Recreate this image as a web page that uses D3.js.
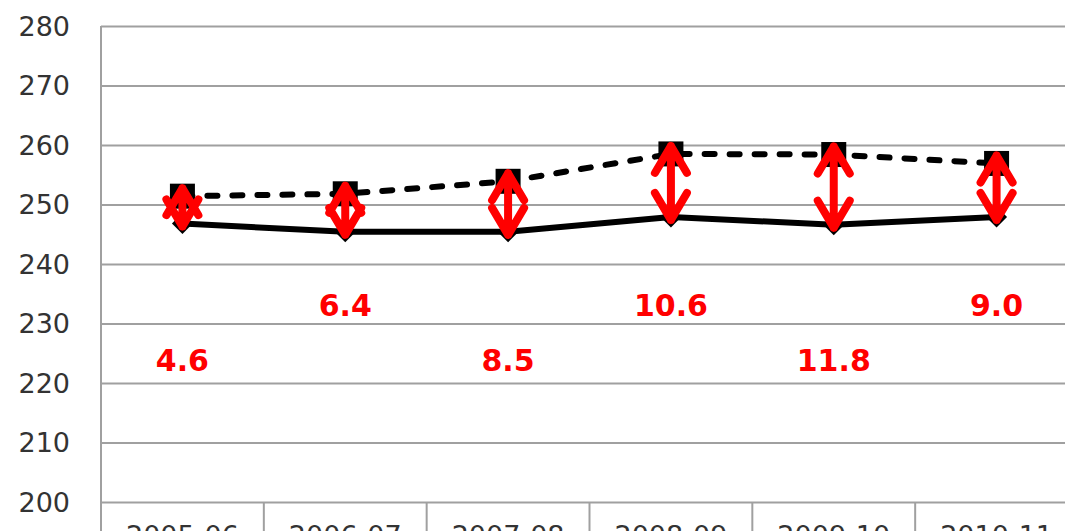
<!DOCTYPE html>
<html>
<head>
<meta charset="utf-8">
<script src="https://cdn.jsdelivr.net/npm/d3@7"></script>
<style>
  html, body { margin: 0; padding: 0; background: #fff; overflow: hidden; }
  svg { display: block; }
  .y-axis text, .x-axis text { font-family: "DejaVu Sans", sans-serif; font-size: 27px; fill: #333; }
  .gap-label { font-family: "DejaVu Sans", sans-serif; font-weight: bold; font-size: 30px; fill: #ff0000; }
</style>
</head>
<body>
<div class="curr-graff"></div>
<script>
// data
const categories = ["2005-06", "2006-07", "2007-08", "2008-09", "2009-10", "2010-11"];
const lowSeries  = [246.8, 245.4, 245.4, 247.9, 246.6, 247.9];   // solid line, diamonds
const highSeries = [251.4, 251.8, 253.9, 258.5, 258.4, 256.9];   // dashed line, squares
const gapLabels  = ["4.6", "6.4", "8.5", "10.6", "11.8", "9.0"];
const yTicks     = [200, 210, 220, 230, 240, 250, 260, 270, 280];

const width = 1065;
const height = 531;

const svg = d3.select(".curr-graff")
    .append("svg")
    .attr("width", width)
    .attr("height", height);

const xScale = d3.scaleBand()
    .domain(categories)
    .range([101, 1078]);

const yScale = d3.scaleLinear()
    .domain([200, 280])
    .range([502, 26]);

const cx = d => xScale(d) + xScale.bandwidth() / 2;

// y axis + gridlines
const yAxis = d3.axisLeft(yScale)
    .tickValues(yTicks)
    .tickSize(-(1078 - 101))
    .tickPadding(31)
    .tickFormat(d3.format(".0f"));

const gy = svg.append("g")
    .attr("class", "y-axis")
    .attr("transform", "translate(101,0)")
    .call(yAxis);
gy.select(".domain").remove();
gy.selectAll(".tick line").attr("stroke", "#a0a0a0").attr("stroke-width", 2);
gy.selectAll(".tick text").attr("dy", "0.35em");

// left axis line, runs into the category box
svg.append("line")
    .attr("x1", 101).attr("x2", 101)
    .attr("y1", yScale(280)).attr("y2", height)
    .attr("stroke", "#a0a0a0").attr("stroke-width", 2);

// x axis labels (cut by the bottom edge like the original)
const xAxis = d3.axisBottom(xScale).tickSize(0).tickPadding(24);
const gx = svg.append("g")
    .attr("class", "x-axis")
    .attr("transform", "translate(0," + yScale(200) + ")")
    .call(xAxis);
gx.select(".domain").remove();

// separators between categories
svg.selectAll("line.sep")
    .data(categories.slice(1))
    .enter()
    .append("line")
    .attr("class", "sep")
    .attr("x1", d => xScale(d)).attr("x2", d => xScale(d))
    .attr("y1", yScale(200)).attr("y2", height)
    .attr("stroke", "#a0a0a0").attr("stroke-width", 2);

// lines
const line = d3.line()
    .x((d, i) => cx(categories[i]))
    .y(d => yScale(d));

svg.append("path")
    .datum(lowSeries)
    .attr("fill", "none")
    .attr("stroke", "#000")
    .attr("stroke-width", 6)
    .attr("stroke-linejoin", "round")
    .attr("d", line);

svg.append("path")
    .datum(highSeries)
    .attr("fill", "none")
    .attr("stroke", "#000")
    .attr("stroke-width", 6)
    .attr("stroke-linecap", "round")
    .attr("stroke-dasharray", "10,15")
    .attr("d", line);

// markers
const diamond = d3.symbol().type(d3.symbolDiamond2).size(280);
svg.selectAll("path.dia")
    .data(lowSeries)
    .enter()
    .append("path")
    .attr("class", "dia")
    .attr("d", diamond)
    .attr("transform", (d, i) => "translate(" + cx(categories[i]) + "," + yScale(d) + ")")
    .attr("fill", "#000");

svg.selectAll("rect.sq")
    .data(highSeries)
    .enter()
    .append("rect")
    .attr("class", "sq")
    .attr("x", (d, i) => cx(categories[i]) - 12.5)
    .attr("y", d => yScale(d) - 12.5)
    .attr("width", 25).attr("height", 25)
    .attr("fill", "#000");

// red double arrows between the two series
const headW = 16, headH = 27;
const arrows = svg.selectAll("g.arrow")
    .data(categories)
    .enter()
    .append("g")
    .attr("class", "arrow")
    .attr("fill", "none")
    .attr("stroke", "#ff0000")
    .attr("stroke-width", 8)
    .attr("stroke-linecap", "round")
    .attr("stroke-linejoin", "round");

arrows.append("path")
    .attr("d", (d, i) => {
        const x = cx(d);
        const top = yScale(highSeries[i]) - 8;
        const bot = yScale(lowSeries[i]) + 3;
        return "M" + x + "," + top + "L" + x + "," + bot +
            "M" + (x - headW) + "," + (top + headH) + "L" + x + "," + top + "L" + (x + headW) + "," + (top + headH) +
            "M" + (x - headW) + "," + (bot - headH) + "L" + x + "," + bot + "L" + (x + headW) + "," + (bot - headH);
    });

// gap labels, alternating low / high
svg.selectAll("text.gap-label")
    .data(gapLabels)
    .enter()
    .append("text")
    .attr("class", "gap-label")
    .attr("text-anchor", "middle")
    .attr("x", (d, i) => cx(categories[i]))
    .attr("y", (d, i) => i % 2 ? yScale(231.2) : yScale(222.1))
    .text(d => d);
</script>
</body>
</html>
